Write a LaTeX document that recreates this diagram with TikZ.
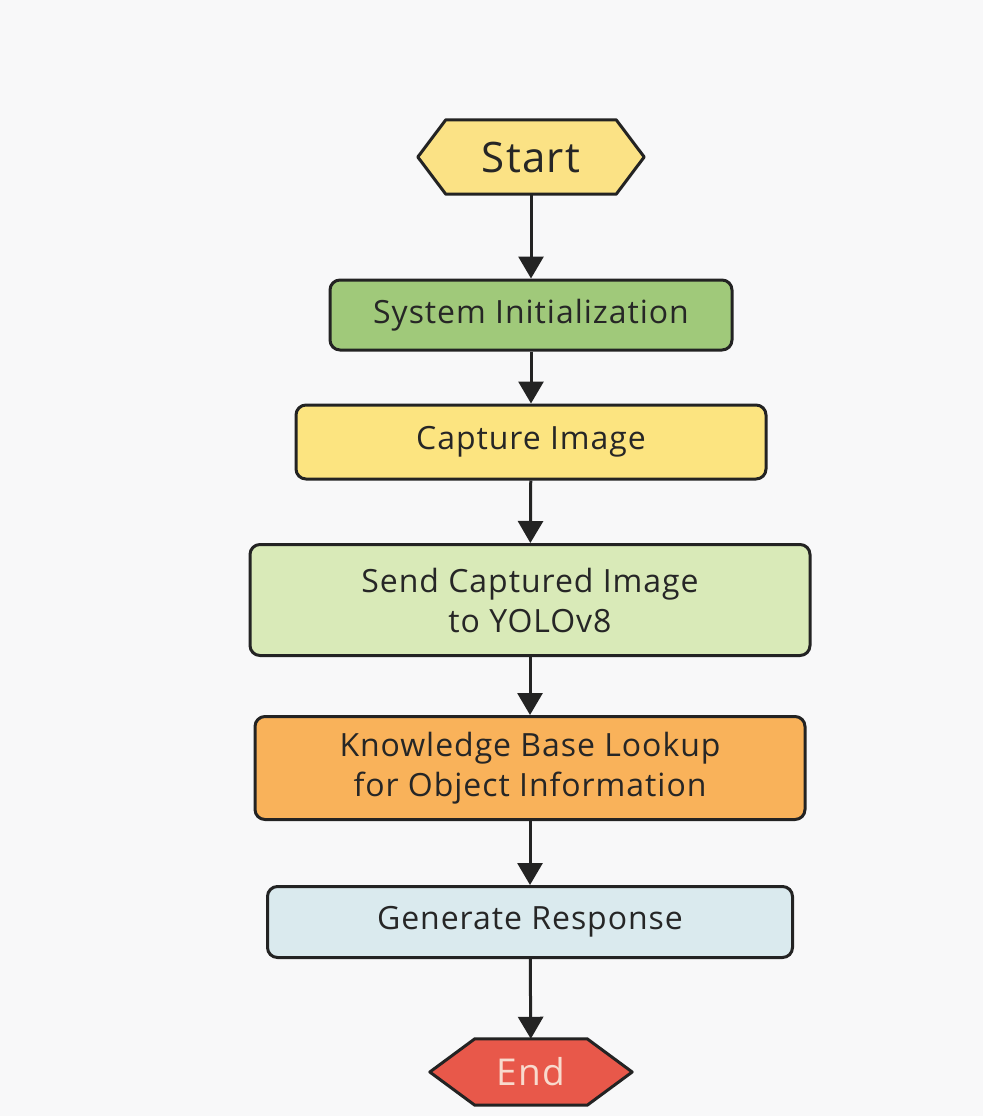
\documentclass[tikz,border=0pt]{standalone}
\usepackage{fontspec}
\setmainfont{Open Sans}[LetterSpace=3]
\usetikzlibrary{arrows.meta}
\definecolor{bgcol}{RGB}{248,248,249}
\definecolor{startcol}{RGB}{251,226,133}
\definecolor{initcol}{RGB}{160,201,122}
\definecolor{capcol}{RGB}{252,228,128}
\definecolor{sendcol}{RGB}{217,234,184}
\definecolor{kbcol}{RGB}{249,178,90}
\definecolor{gencol}{RGB}{218,234,238}
\definecolor{endcol}{RGB}{232,88,74}
\definecolor{endtext}{RGB}{248,218,205}
\definecolor{linecol}{RGB}{35,35,35}
\tikzset{
	stepbox/.style={draw=linecol, line width=3pt, rounded corners=10pt,
		align=center, text=black!85, font=\fontsize{32}{40}\selectfont, inner sep=0pt},
	termbox/.style={inner sep=0pt, font=\fontsize{42}{46}\selectfont},
	termline/.style={draw=linecol, line width=3pt, line join=round},
	flow/.style={draw=linecol, line width=3pt, -{Triangle[length=22pt,width=25pt]}}
}
\begin{document}
\begin{tikzpicture}[x=1pt,y=-1pt]
	\fill[bgcol] (0,0) rectangle (983,1116);
	\useasboundingbox (0,0) rectangle (983,1116);
	% terminals
	\node[termbox, minimum width=226pt, minimum height=74pt] (start) at (531,157) {};
	\draw[termline, fill=startcol] (start.west) -- ([xshift=28pt]start.north west)
		-- ([xshift=-28pt]start.north east) -- (start.east)
		-- ([xshift=-28pt]start.south east) -- ([xshift=28pt]start.south west) -- cycle;
	\node[termbox, text=black!85] at (start) {Start};
	\node[termbox, minimum width=202pt, minimum height=66pt] (end) at (531,1072) {};
	\draw[termline, fill=endcol] (end.west) -- ([xshift=45pt]end.north west)
		-- ([xshift=-45pt]end.north east) -- (end.east)
		-- ([xshift=-45pt]end.south east) -- ([xshift=45pt]end.south west) -- cycle;
	\node[termbox, text=endtext, font=\fontsize{37}{42}\selectfont] at (end) {End};
	% steps
	\node[stepbox, fill=initcol, minimum width=402pt, minimum height=70pt]
		(init) at (531,315) {System Initialization};
	\node[stepbox, fill=capcol, minimum width=470pt, minimum height=74pt]
		(capture) at (531,442) {Capture Image};
	\node[stepbox, fill=sendcol, minimum width=560pt, minimum height=111pt]
		(send) at (530,600) {Send Captured Image\\to YOLOv8};
	\node[stepbox, fill=kbcol, minimum width=550pt, minimum height=103pt]
		(lookup) at (530,768) {Knowledge Base Lookup\\for Object Information};
	\node[stepbox, fill=gencol, minimum width=525pt, minimum height=71pt]
		(generate) at (530,922) {Generate Response};
	% arrows
	\draw[flow] (start) -- (init);
	\draw[flow] (init) -- (capture);
	\draw[flow] (capture) -- (send);
	\draw[flow] (send) -- (lookup);
	\draw[flow] (lookup) -- (generate);
	\draw[flow] (generate) -- (end);
\end{tikzpicture}
\end{document}
